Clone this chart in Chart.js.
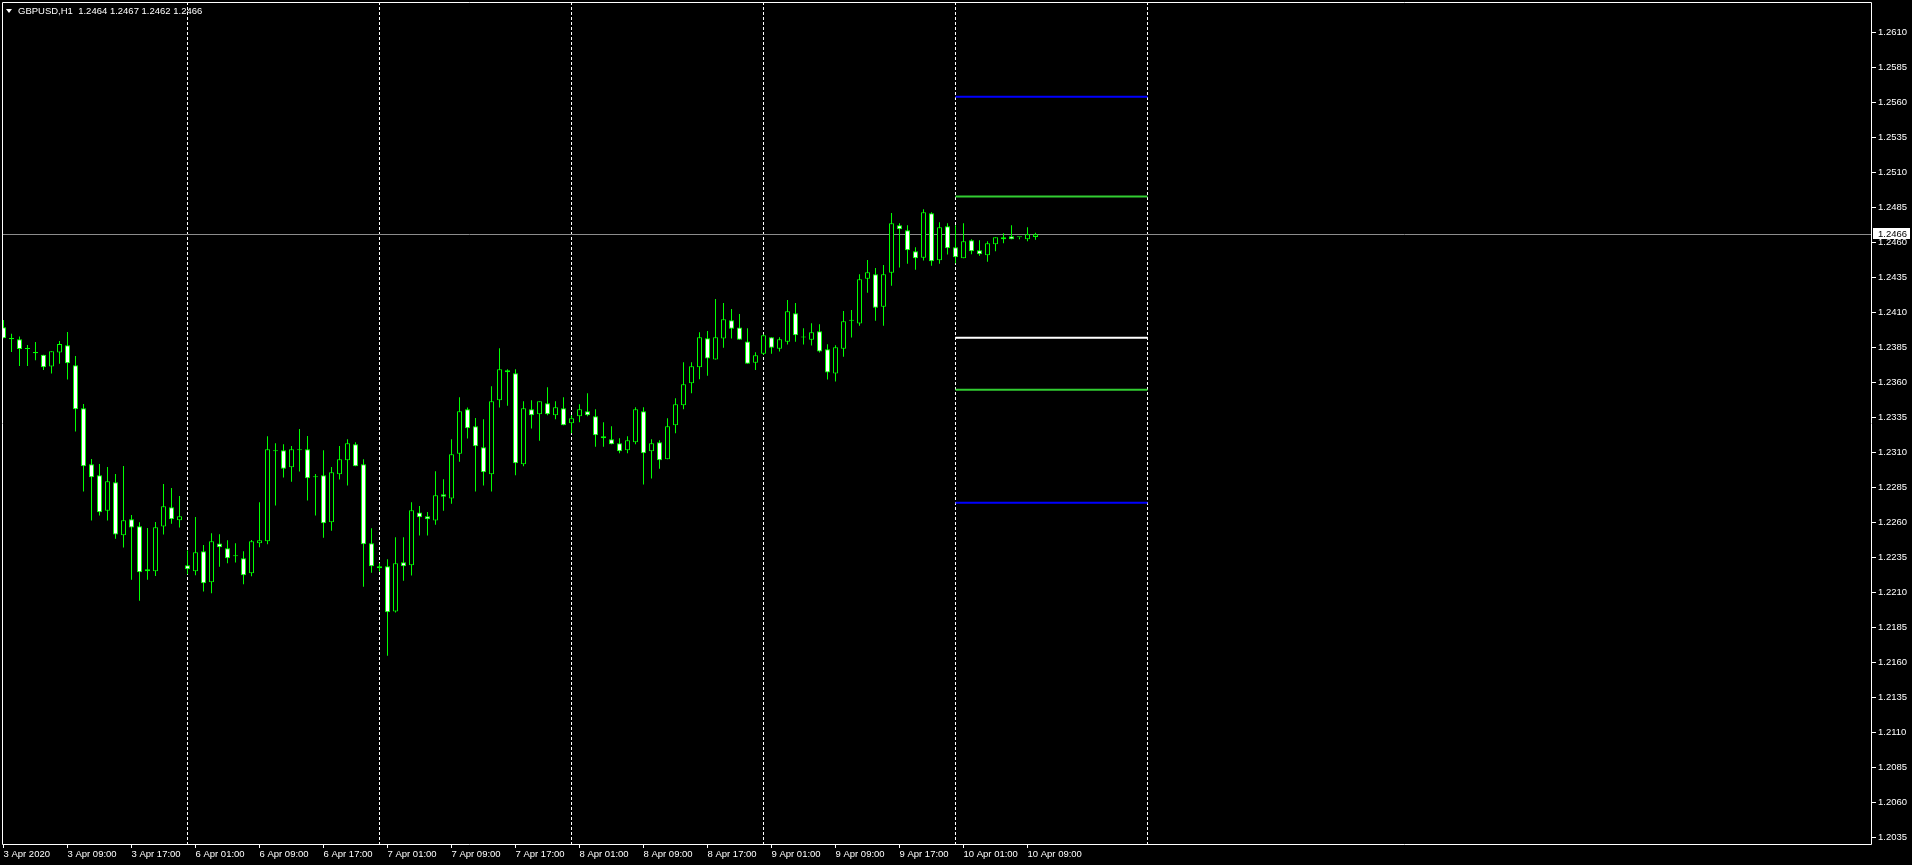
<!DOCTYPE html>
<html>
<head>
<meta charset="utf-8">
<script src="https://cdn.jsdelivr.net/npm/chart.js@4.4.0/dist/chart.umd.min.js"></script>
<style>
  html, body { margin: 0; padding: 0; background: #000; overflow: hidden; }
  #wrap { position: relative; width: 1912px; height: 865px; }
  #tri { position: absolute; left: 6px; top: 9px; width: 0; height: 0;
         border-left: 3px solid transparent; border-right: 3px solid transparent; border-top: 4px solid #fff; }
  #title { position: absolute; left: 18px; top: 5px; color: #fff; white-space: pre;
           font: 9.5px "Liberation Sans", Arial, sans-serif; }
</style>
</head>
<body>
<div id="wrap">
  <canvas id="chart" width="1912" height="865" style="width:1912px;height:865px"></canvas>
  <div id="tri"></div>
  <div id="title">GBPUSD,H1  1.2464 1.2467 1.2462 1.2466</div>
</div>
<script>
// GBPUSD H1 bars, 3 Apr 2020 01:00 .. 10 Apr 2020 10:00
var opens  = [1.23996,1.2392,1.2391,1.2384,1.2382,1.2380,1.23715,1.23815,1.23867,1.23724,
              1.23417,1.23017,1.22939,1.22686,1.22889,1.22510,1.22624,1.22574,1.22267,1.22253,
              1.22572,1.22710,1.22617,1.22296,1.22253,1.22396,1.22174,1.22451,1.22417,1.22360,
              1.22346,1.22239,1.22453,1.22467,1.23110,1.23117,1.22996,1.23117,1.23124,1.22924,
              1.22939,1.22603,1.22946,1.23046,1.23160,1.23017,1.22453,1.22289,1.22289,1.21965,
              1.22317,1.22296,1.22672,1.22646,1.22615,1.22803,1.22772,1.23093,1.23410,1.23289,
              1.23139,1.22946,1.23474,1.23689,1.23667,1.23017,1.23410,1.23374,1.23453,1.23367,
              1.23417,1.23310,1.23360,1.23396,1.23360,1.23217,1.23196,1.23167,1.23117,1.23174,
              1.23396,1.23110,1.23174,1.23053,1.23296,1.23439,1.23596,1.23710,1.23917,1.23765,
              1.23915,1.24046,1.23995,1.23895,1.23743,1.23807,1.23924,1.23843,1.23893,1.24095,
              1.23922,1.23907,1.23967,1.23838,1.23665,1.23843,1.24043,1.24022,1.24343,1.24374,
              1.24143,1.24386,1.24724,1.24688,1.24538,1.24493,1.24810,1.24474,1.24717,1.24567,
              1.24488,1.24617,1.24545,1.24510,1.24588,1.24624,1.24645,1.24638,1.24624,1.2464];
var highs  = [1.24048,1.2395,1.2393,1.2387,1.2389,1.2380,1.23824,1.23898,1.23962,1.23791,
              1.23448,1.23055,1.23019,1.22998,1.22948,1.23005,1.22655,1.22603,1.22562,1.22605,
              1.22877,1.22848,1.22791,1.22401,1.22641,1.22441,1.22524,1.22517,1.22474,1.22453,
              1.22396,1.22477,1.22746,1.23217,1.23167,1.23160,1.23148,1.23270,1.23220,1.22948,
              1.23117,1.22998,1.23148,1.23196,1.23174,1.23053,1.22560,1.22310,1.22339,1.22496,
              1.22496,1.22746,1.22720,1.22677,1.22967,1.22910,1.23196,1.23496,1.23422,1.23348,
              1.23339,1.23574,1.23846,1.23696,1.23696,1.23467,1.23474,1.23467,1.23567,1.23467,
              1.23496,1.23367,1.23446,1.23524,1.23410,1.23317,1.23289,1.23203,1.23217,1.23424,
              1.23424,1.23196,1.23189,1.23346,1.23489,1.23746,1.23746,1.23960,1.23969,1.24198,
              1.24169,1.24127,1.24091,1.23988,1.23817,1.23945,1.23924,1.23924,1.24191,1.24169,
              1.23988,1.24024,1.24017,1.23874,1.23867,1.24112,1.24119,1.24374,1.24476,1.24419,
              1.24441,1.24812,1.24738,1.24724,1.24567,1.24838,1.24817,1.24745,1.24738,1.24724,
              1.24738,1.24624,1.24617,1.24610,1.24638,1.24667,1.24724,1.24638,1.24710,1.2467];
var lows   = [1.23917,1.2382,1.2372,1.2372,1.2376,1.2369,1.23665,1.23736,1.23622,1.23251,
              1.22822,1.22615,1.22651,1.22615,1.22486,1.22422,1.22193,1.22043,1.22193,1.22220,
              1.22515,1.22593,1.22565,1.22231,1.22224,1.22108,1.22096,1.22286,1.22310,1.22315,
              1.22160,1.22217,1.22424,1.22446,1.22722,1.22922,1.22893,1.22965,1.22758,1.22651,
              1.22493,1.22543,1.22908,1.22865,1.23003,1.22143,1.22243,1.22251,1.21650,1.21958,
              1.22186,1.22222,1.22508,1.22508,1.22586,1.22686,1.22736,1.23036,1.23201,1.22822,
              1.22865,1.22822,1.23422,1.23436,1.22939,1.23003,1.23272,1.23186,1.23367,1.23339,
              1.23296,1.23239,1.23317,1.23360,1.23143,1.23143,1.23160,1.23096,1.23096,1.23160,
              1.22872,1.22915,1.22986,1.23053,1.23239,1.23410,1.23524,1.23624,1.23650,1.23765,
              1.23850,1.23915,1.23907,1.23736,1.23691,1.23800,1.23807,1.23822,1.23872,1.23893,
              1.23872,1.23865,1.23815,1.23622,1.23608,1.23786,1.23922,1.24007,1.24243,1.24043,
              1.24007,1.24293,1.24422,1.24450,1.24407,1.24472,1.24436,1.24450,1.24515,1.24453,
              1.24488,1.24517,1.24507,1.24464,1.24538,1.24595,1.24624,1.24624,1.24610,1.2462];
var closes = [1.23917,1.2391,1.2384,1.2384,1.2381,1.2371,1.23824,1.23877,1.23739,1.23410,
              1.23003,1.22924,1.22674,1.22896,1.22515,1.22617,1.22565,1.22246,1.22253,1.22567,
              1.22717,1.22624,1.22646,1.22267,1.22389,1.22167,1.22467,1.22424,1.22346,1.22360,
              1.22224,1.22467,1.22474,1.23124,1.23117,1.22986,1.23124,1.23117,1.22917,1.22924,
              1.22596,1.22960,1.23053,1.23167,1.23003,1.22446,1.22289,1.22274,1.21960,1.22310,
              1.22289,1.22689,1.22639,1.22624,1.22796,1.22786,1.23089,1.23396,1.23274,1.23146,
              1.22960,1.23467,1.23696,1.23674,1.23024,1.23417,1.23367,1.23467,1.23374,1.23424,
              1.23296,1.23346,1.23410,1.23367,1.23224,1.23203,1.23160,1.23110,1.23189,1.23410,
              1.23096,1.23167,1.23046,1.23289,1.23446,1.23589,1.23717,1.23924,1.23772,1.23924,
              1.24053,1.23986,1.23907,1.23736,1.23796,1.23938,1.23850,1.23910,1.24110,1.23938,
              1.23922,1.23960,1.23822,1.23672,1.23853,1.24038,1.24043,1.24338,1.24388,1.24136,
              1.24374,1.24738,1.24695,1.24545,1.24488,1.24817,1.24467,1.24710,1.24560,1.24495,
              1.24610,1.24538,1.24517,1.24595,1.24638,1.24638,1.24624,1.24638,1.24660,1.2466];

var bidPrice = 1.2466;

// daily pivot levels for 10 Apr (R2, R1, P, S1, S2)
var pivotLevels = [1.25643, 1.24929, 1.23921, 1.23550, 1.22743];
var pivotColors = ['#0000ff', '#32cd32', '#ffffff', '#32cd32', '#0000ff'];
var pivotFrom = 119, pivotTo = 143;

// day separators (bar index of 00:00)
var separatorBars = [23, 47, 71, 95, 119, 143];

// time axis
var tickBars = [0, 8, 16, 24, 32, 40, 48, 56, 64, 72, 80, 88, 96, 104, 112, 120, 128];
var timeLabels = ['3 Apr 2020', '3 Apr 09:00', '3 Apr 17:00', '6 Apr 01:00', '6 Apr 09:00', '6 Apr 17:00',
                  '7 Apr 01:00', '7 Apr 09:00', '7 Apr 17:00', '8 Apr 01:00', '8 Apr 09:00', '8 Apr 17:00',
                  '9 Apr 01:00', '9 Apr 09:00', '9 Apr 17:00', '10 Apr 01:00', '10 Apr 09:00'];

// price axis
var priceTicks = [1.2035, 1.2060, 1.2085, 1.2110, 1.2135, 1.2160, 1.2185, 1.2210, 1.2235, 1.2260,
                  1.2285, 1.2310, 1.2335, 1.2360, 1.2385, 1.2410, 1.2435, 1.2460, 1.2485, 1.2510,
                  1.2535, 1.2560, 1.2585, 1.2610];

var CANDLE = '#00ff00';
var axisFont = { family: '"Liberation Sans", Arial, sans-serif', size: 9.5 };

var bodyData = opens.map(function(o, i){ return { x: i, y: [o, closes[i]] }; });
var wickData = opens.map(function(o, i){ return { x: i, y: [lows[i], highs[i]] }; });

var datasets = [
  {
    label: 'body',
    data: bodyData,
    barThickness: 5,
    borderWidth: 1,
    borderColor: CANDLE,
    borderSkipped: false,
    minBarLength: 1,
    inflateAmount: 0,
    grouped: false,
    backgroundColor: function(ctx) {
      var i = ctx.dataIndex;
      if (opens[i] === closes[i]) return CANDLE;
      return opens[i] > closes[i] ? '#ffffff' : '#000000';
    }
  },
  {
    label: 'wick',
    data: wickData,
    barThickness: 1,
    borderWidth: 0,
    inflateAmount: 0,
    grouped: false,
    backgroundColor: CANDLE
  }
];

pivotLevels.forEach(function(lvl, k){
  datasets.push({
    type: 'line',
    label: 'pivot' + k,
    data: [{ x: pivotFrom, y: lvl }, { x: pivotTo, y: lvl }],
    borderColor: pivotColors[k],
    borderWidth: 2,
    pointRadius: 0,
    fill: false
  });
});

var framePlugin = {
  id: 'mtFrame',
  beforeDatasetsDraw: function(chart) {
    var ctx = chart.ctx, ca = chart.chartArea;
    var xs = chart.scales.x, ys = chart.scales.y;
    ctx.save();
    // day separators
    ctx.strokeStyle = '#ffffff';
    ctx.lineWidth = 1;
    ctx.setLineDash([3, 2]);
    separatorBars.forEach(function(b){
      var x = Math.floor(xs.getPixelForValue(b)) + 0.5;
      ctx.beginPath();
      ctx.moveTo(x, ca.top);
      ctx.lineTo(x, ca.bottom);
      ctx.stroke();
    });
    ctx.setLineDash([]);
    // bid line
    var y = Math.floor(ys.getPixelForValue(bidPrice)) + 0.5;
    ctx.strokeStyle = '#8c8c8c';
    ctx.beginPath();
    ctx.moveTo(ca.left, y);
    ctx.lineTo(ca.right, y);
    ctx.stroke();
    ctx.restore();
  },
  afterDraw: function(chart) {
    var ctx = chart.ctx, ca = chart.chartArea;
    var ys = chart.scales.y;
    ctx.save();
    ctx.strokeStyle = '#ffffff';
    ctx.lineWidth = 1;
    ctx.beginPath();
    ctx.moveTo(ca.left + 0.5, ca.top + 0.5);
    ctx.lineTo(ca.right - 0.5, ca.top + 0.5);
    ctx.lineTo(ca.right - 0.5, ca.bottom + 0.5);
    ctx.lineTo(ca.left + 0.5, ca.bottom + 0.5);
    ctx.closePath();
    ctx.stroke();
    // current price label
    var y = Math.floor(ys.getPixelForValue(bidPrice));
    ctx.fillStyle = '#ffffff';
    ctx.fillRect(ca.right + 1, y - 6, 37, 11);
    ctx.fillStyle = '#000000';
    ctx.font = '9.5px "Liberation Sans", Arial, sans-serif';
    ctx.textBaseline = 'middle';
    ctx.textAlign = 'left';
    ctx.fillText(bidPrice.toFixed(4), ca.right + 6, y);
    ctx.restore();
  }
};

new Chart(document.getElementById('chart'), {
  type: 'bar',
  data: { datasets: datasets },
  plugins: [framePlugin],
  options: {
    responsive: false,
    animation: false,
    events: [],
    layout: { padding: { left: 2, top: 2, right: 0, bottom: 0 } },
    plugins: { legend: { display: false }, tooltip: { enabled: false } },
    scales: {
      x: {
        type: 'linear',
        bounds: 'data',
        offset: false,
        min: -0.1875,
        max: 233.5625,
        afterBuildTicks: function(s){ s.ticks = tickBars.map(function(v){ return { value: v }; }); },
        afterFit: function(s){ s.height = 21; s.paddingLeft = 0; s.paddingRight = 0; },
        grid: { drawOnChartArea: false, offset: false, color: '#ffffff', tickLength: 4 },
        border: { display: false },
        ticks: {
          color: '#ffffff', font: axisFont, padding: 1, align: 'start',
          maxRotation: 0, minRotation: 0, autoSkip: false,
          callback: function(v, i){ return timeLabels[i]; }
        }
      },
      y: {
        type: 'linear',
        position: 'right',
        bounds: 'data',
        min: 1.20305,
        max: 1.26319,
        afterBuildTicks: function(s){ s.ticks = priceTicks.map(function(v){ return { value: v }; }); },
        afterFit: function(s){ s.width = 40; s.paddingTop = 0; s.paddingBottom = 0; },
        grid: { drawOnChartArea: false, color: '#ffffff', tickLength: 4 },
        border: { display: false },
        ticks: {
          color: '#ffffff', font: axisFont, padding: 2,
          callback: function(v){ return Number(v).toFixed(4); }
        }
      }
    }
  }
});
</script>
</body>
</html>
